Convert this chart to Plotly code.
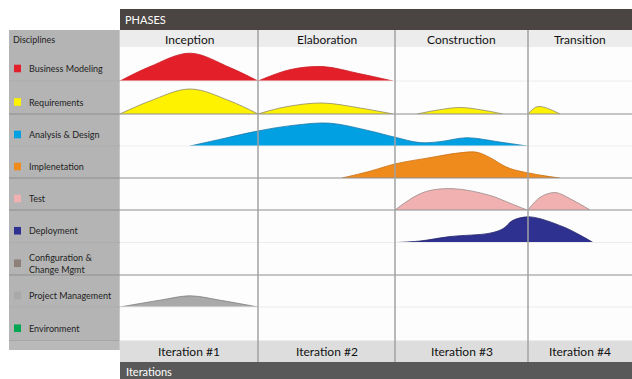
import plotly.graph_objects as go

W, H = 632, 379
FONT = "Comic Sans MS, Lato, sans-serif"

# ---- data -------------------------------------------------------------
disciplines = ["Business Modeling", "Requirements", "Analysis & Design",
               "Implenetation", "Test", "Deployment",
               "Configuration &<br>Change Mgmt", "Project Management",
               "Environment"]
colors = ["#e3202a", "#fff200", "#00a0e3", "#ef8a1c", "#f2b1b1",
          "#2e3190", "#8e7f78", "#a9a9a9", "#00a651"]
edges = ["#c81c24", "#8f8a6a", "#1b78a8", "#c86e10", "#9a8a8a",
         "#24246a", "#6e625c", "#7e7e7e", "#00803e"]

phases = ["Inception", "Elaboration", "Construction", "Transition"]
phase_ends = [138, 275, 408, 512]          # project time units
iterations = ["Iteration #1", "Iteration #2", "Iteration #3", "Iteration #4"]

# effort humps per discipline: list of (time, effort) segments
business_t = [[0, 30, 70, 110, 138], [138, 170, 203, 240, 273]]
business_e = [[0, 14, 27, 13, 0], [0, 11, 14, 7, 0]]

requirements_t = [[0, 30, 70, 110, 138], [138, 165, 202, 240, 273],
                  [297, 318, 340, 362, 383], [408, 418, 440]]
requirements_e = [[0, 13, 25, 13, 0], [0, 7, 11, 6, 0],
                  [0, 4, 6.5, 4, 0], [0, 7.5, 0]]

analysis_t = [[70, 105, 138, 175, 210, 250, 275, 300, 320, 347, 380, 407]]
analysis_e = [[0, 8, 15.5, 21.5, 23.5, 15.5, 9, 3.5, 4.5, 8.5, 4, 0]]

implementation_t = [[222, 250, 275, 310, 340, 357, 370, 387, 400, 423, 440]]
implementation_e = [[0, 7, 14.5, 21, 26, 26.5, 21, 11, 7, 2.5, 0]]

test_t = [[275, 303, 333, 370, 390, 407], [408, 420, 435, 453, 470]]
test_e = [[0, 18, 22, 15, 7, 0], [0, 13, 18, 10, 0]]

deployment_t = [[277, 300, 330, 370, 383, 393, 410, 443, 460, 473]]
deployment_e = [[0, 1.5, 6, 9.5, 14, 22.5, 26, 16, 7.5, 0]]

config_t, config_e = [], []

management_t = [[0, 40, 70, 100, 138]]
management_e = [[0, 7, 11.5, 7, 0]]

environment_t, environment_e = [], []

humps_t = [business_t, requirements_t, analysis_t, implementation_t, test_t,
           deployment_t, config_t, management_t, environment_t]
humps_e = [business_e, requirements_e, analysis_e, implementation_e, test_e,
           deployment_e, config_e, management_e, environment_e]

# ---- layout geometry (pixels) ------------------------------------------
GRID_L = 120
row_top = [47, 81, 114, 146, 178, 210, 242.5, 275, 307]
GRID_B = 340.5
row_bot = row_top[1:] + [GRID_B]
dark_lines = [114, 178, 210, 275]
light_lines = [81, 146, 242.5, 307]


def fx(p):
    return p / W


def fy(p):
    return 1 - p / H


T_MAX = phase_ends[-1]


def tx(t):
    """time -> pixel x"""
    return GRID_L + (W - GRID_L) * t / T_MAX


fig = go.Figure()

for i, (segs_t, segs_e) in enumerate(zip(humps_t, humps_e)):
    yname = "y" if i == 0 else f"y{i + 1}"
    for t, e in zip(segs_t, segs_e):
        fig.add_trace(go.Scatter(
            x=t, y=e, xaxis="x", yaxis=yname, mode="lines",
            line=dict(shape="spline", smoothing=1.0, color=edges[i], width=0.8),
            fill="tozeroy", fillcolor=colors[i], hoverinfo="skip",
            showlegend=False))

layout = dict(
    width=W, height=H, margin=dict(l=0, r=0, t=0, b=0),
    paper_bgcolor="white", plot_bgcolor="rgba(0,0,0,0)",
    showlegend=False,
    xaxis=dict(domain=[fx(GRID_L), 1], range=[0, T_MAX], visible=False,
               fixedrange=True, anchor="y"),
)
for i in range(len(disciplines)):
    key = "yaxis" if i == 0 else f"yaxis{i + 1}"
    layout[key] = dict(domain=[fy(row_bot[i]), fy(row_top[i])],
                       range=[0, 33], visible=False, fixedrange=True,
                       anchor="x")
fig.update_layout(**layout)

shapes = []


def rect(x0, y0, x1, y1, color, layer="below"):
    shapes.append(dict(type="rect", xref="paper", yref="paper",
                       x0=fx(x0), x1=fx(x1), y0=fy(y1), y1=fy(y0),
                       fillcolor=color, line=dict(width=0), layer=layer))


def hline(y, x0, x1, color, width=1, layer="above"):
    shapes.append(dict(type="line", xref="paper", yref="paper",
                       x0=fx(x0), x1=fx(x1), y0=fy(y), y1=fy(y),
                       line=dict(color=color, width=width), layer=layer))


def vline(x, y0, y1, color, width=1, layer="above"):
    shapes.append(dict(type="line", xref="paper", yref="paper",
                       x0=fx(x), x1=fx(x), y0=fy(y0), y1=fy(y1),
                       line=dict(color=color, width=width), layer=layer))


# backgrounds
rect(GRID_L, 9, W, 30, "#4a4543")          # PHASES bar
rect(GRID_L, 30, W, 47, "#ececec")         # phase names
rect(GRID_L, 47, W, GRID_B, "#fdfdfd")     # grid
rect(GRID_L, GRID_B, W, 362, "#dddddd")    # iteration names
rect(GRID_L, 362, W, H, "#595959")         # Iterations bar
rect(9, 30, GRID_L, 350, "#b4b4b4")        # disciplines panel
rect(9, GRID_B, GRID_L, 350, "#b9b9b9")
hline(GRID_B, 9, GRID_L, "#a6a6a6", 1)
vline(GRID_L - 0.5, 30, 350, "#c8c8c8", 1)

# row separators
for y in light_lines:
    hline(y, GRID_L, W, "#ececec", 1)
    hline(y, 9, GRID_L, "#adadad", 1)
for y in dark_lines:
    hline(y, 9, W, "#8e8e8e", 1)

# phase / iteration separators
for t in phase_ends[:-1]:
    vline(tx(t), 30, 362, "#a2a2a2", 1.5)

ann = []
ann.append(dict(text="PHASES", x=fx(GRID_L + 3), y=fy(20), xanchor="left",
                yanchor="middle", font=dict(color="white", size=11, family=FONT)))
ann.append(dict(text="Iterations", x=fx(GRID_L + 4), y=fy(371), xanchor="left",
                yanchor="middle", font=dict(color="white", size=11, family=FONT)))
ann.append(dict(text="Disciplines", x=fx(11), y=fy(39), xanchor="left",
                yanchor="middle", font=dict(color="#1e1e1e", size=9, family=FONT)))

starts = [0] + phase_ends[:-1]
for name, it, t0, t1 in zip(phases, iterations, starts, phase_ends):
    cx = fx((tx(t0) + tx(t1)) / 2)
    ann.append(dict(text=name, x=cx, y=fy(39), xanchor="center",
                    yanchor="middle",
                    font=dict(color="#111111", size=12, family=FONT)))
    ann.append(dict(text=it, x=cx, y=fy(351.5), xanchor="center",
                    yanchor="middle",
                    font=dict(color="#111111", size=12, family=FONT)))

for i, name in enumerate(disciplines):
    cy = (row_top[i] + row_bot[i]) / 2 + 4.5
    shapes.append(dict(type="rect", xref="paper", yref="paper",
                       x0=fx(14), x1=fx(21), y0=fy(cy + 3.8), y1=fy(cy - 3.8),
                       fillcolor=colors[i], line=dict(width=0), layer="above"))
    ann.append(dict(text=name, x=fx(26.5), y=fy(cy), xanchor="left",
                    yanchor="middle", align="left",
                    font=dict(color="#1e1e1e", size=9, family=FONT)))

for a in ann:
    a.update(xref="paper", yref="paper", showarrow=False)
fig.update_layout(annotations=ann, shapes=shapes)

fig.write_html("out.html")
